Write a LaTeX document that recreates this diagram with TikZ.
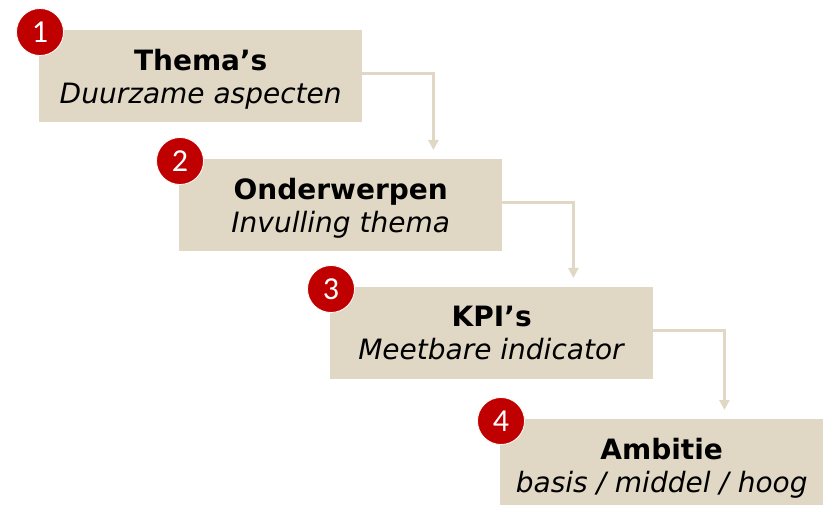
\documentclass[tikz,border=0pt]{standalone}
\usepackage{fontspec}
\setmainfont{DejaVu Sans}
\newfontfamily\numfont{Carlito}
\usetikzlibrary{arrows.meta,positioning,calc}
\definecolor{sand}{HTML}{E0D8C5}
\definecolor{darkred}{HTML}{C00000}

\begin{document}
\begin{tikzpicture}[x=1pt, y=1pt, every node/.style={font=\fontsize{28}{33}\selectfont}]
\tikzset{stage/.style={fill=sand, minimum width=323pt, minimum height=92pt, align=center, inner sep=0pt, text depth=0pt, anchor=north west}}
\tikzset{num/.style={circle, fill=darkred, draw=white, line width=0.8pt, minimum size=47pt, inner sep=0pt, text=white, font=\numfont\fontsize{32}{32}\selectfont}}
\tikzset{flow/.style={draw=sand, line width=2.7pt, -{Triangle[width=10pt,length=10pt]}}}
\useasboundingbox (0,0) rectangle (825,-505);
\clip (0,0) rectangle (825,-505);
% the four steps
\node[stage] (b1) at (39,-30) {\textbf{Thema’s}\\\textit{Duurzame aspecten}};
\node[stage] (b2) at (179,-159) {\textbf{Onderwerpen}\\\textit{Invulling thema}};
\node[stage] (b3) at (330,-287) {\textbf{KPI’s}\\\textit{Meetbare indicator}};
\node[stage] (b4) at (500,-419) {\textbf{Ambitie}\\\textit{basis / middel / hoog}};
% step numbers
\node[num] (n1) at ($(b1.north west)+(1,-2)$) {1};
\node[num] (n2) at ($(b2.north west)+(1,-2)$) {2};
\node[num] (n3) at ($(b3.north west)+(1,-2)$) {3};
\node[num] (n4) at ($(b4.north west)+(1,-2)$) {4};
% connectors
\coordinate (t2) at ($(b1.east |- b2.north)+(71,9)$);
\coordinate (t3) at ($(b2.east |- b3.north)+(71,9)$);
\coordinate (t4) at ($(b3.east |- b4.north)+(71,9)$);
\draw[flow] ([yshift=3pt]b1.east) -| (t2);
\draw[flow] ([yshift=3pt]b2.east) -| (t3);
\draw[flow] ([yshift=3pt]b3.east) -| (t4);
\end{tikzpicture}
\end{document}
